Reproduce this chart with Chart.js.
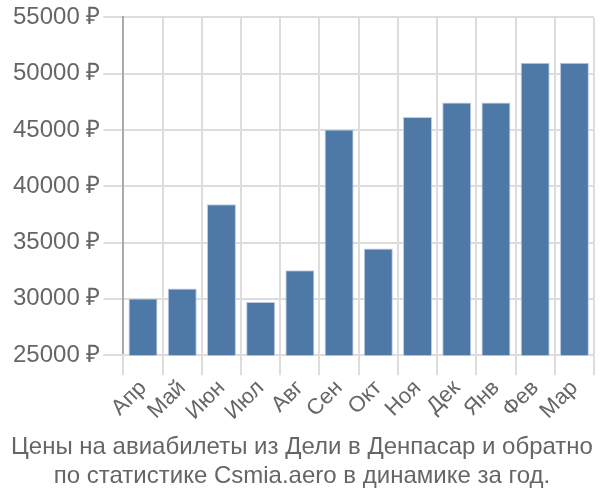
<!DOCTYPE html>
<html>
<head>
<meta charset="utf-8">
<script src="https://cdn.jsdelivr.net/npm/chart.js"></script>
<style>
  html, body { margin: 0; padding: 0; background: #fff; }
  #wrap { width: 600px; height: 500px; }
</style>
</head>
<body>
<div id="wrap"><canvas id="price-chart"></canvas></div>
<script>
// Months and prices (rubles)
var months = ['Апр', 'Май', 'Июн', 'Июл', 'Авг', 'Сен', 'Окт', 'Ноя', 'Дек', 'Янв', 'Фев', 'Мар'];
var prices = [30040, 30920, 38410, 29710, 32540, 45040, 34470, 46150, 47450, 47450, 50980, 50980];
var yTicks = [25000, 30000, 35000, 40000, 45000, 50000, 55000];
var titleLines = ['Цены на авиабилеты из Дели в Денпасар и обратно', 'по статистике Csmia.aero в динамике за год.'];

var ctx = document.getElementById('price-chart');
var priceChart = new Chart(ctx, {
    type: 'bar',
    data: {
        labels: months,
        datasets: [{
            data: prices,
            backgroundColor: '#4e79a7',
            borderColor: 'rgba(190, 205, 225, 1)',
            borderWidth: 1,
            categoryPercentage: 1,
            barPercentage: 0.74
        }]
    },
    options: {
        responsive: true,
        maintainAspectRatio: false,
        animation: false,
        layout: { padding: { top: 0, right: 6, left: 10, bottom: 0 } },
        plugins: {
            legend: { display: false },
            tooltip: { enabled: false },
            title: {
                display: true,
                position: 'bottom',
                text: titleLines,
                color: '#666',
                font: { family: 'Liberation Sans, Arial, sans-serif', size: 24, weight: 'normal' },
                padding: { top: 8, bottom: 9 },
                lineHeight: 1.1
            }
        },
        scales: {
            y: {
                min: yTicks[0],
                max: yTicks[yTicks.length - 1],
                afterBuildTicks: function (axis) {
                    axis.ticks = yTicks.map(function (v) { return { value: v }; });
                },
                ticks: {
                    color: '#666',
                    font: { family: 'Liberation Sans, Arial, sans-serif', size: 24 },
                    padding: 3,
                    callback: function (v) { return v + ' ₽'; }
                },
                grid: { color: '#ddd', lineWidth: 2, tickLength: 20 },
                border: { color: '#aaa', width: 2 }
            },
            x: {
                ticks: {
                    color: '#666',
                    font: { family: 'Liberation Sans, Arial, sans-serif', size: 22 },
                    maxRotation: 45,
                    minRotation: 45,
                    autoSkip: false,
                    padding: 0
                },
                grid: { color: '#ddd', lineWidth: 2, tickLength: 20, offset: true },
                border: { color: '#ddd', width: 2 }
            }
        }
    }
});
</script>
</body>
</html>
